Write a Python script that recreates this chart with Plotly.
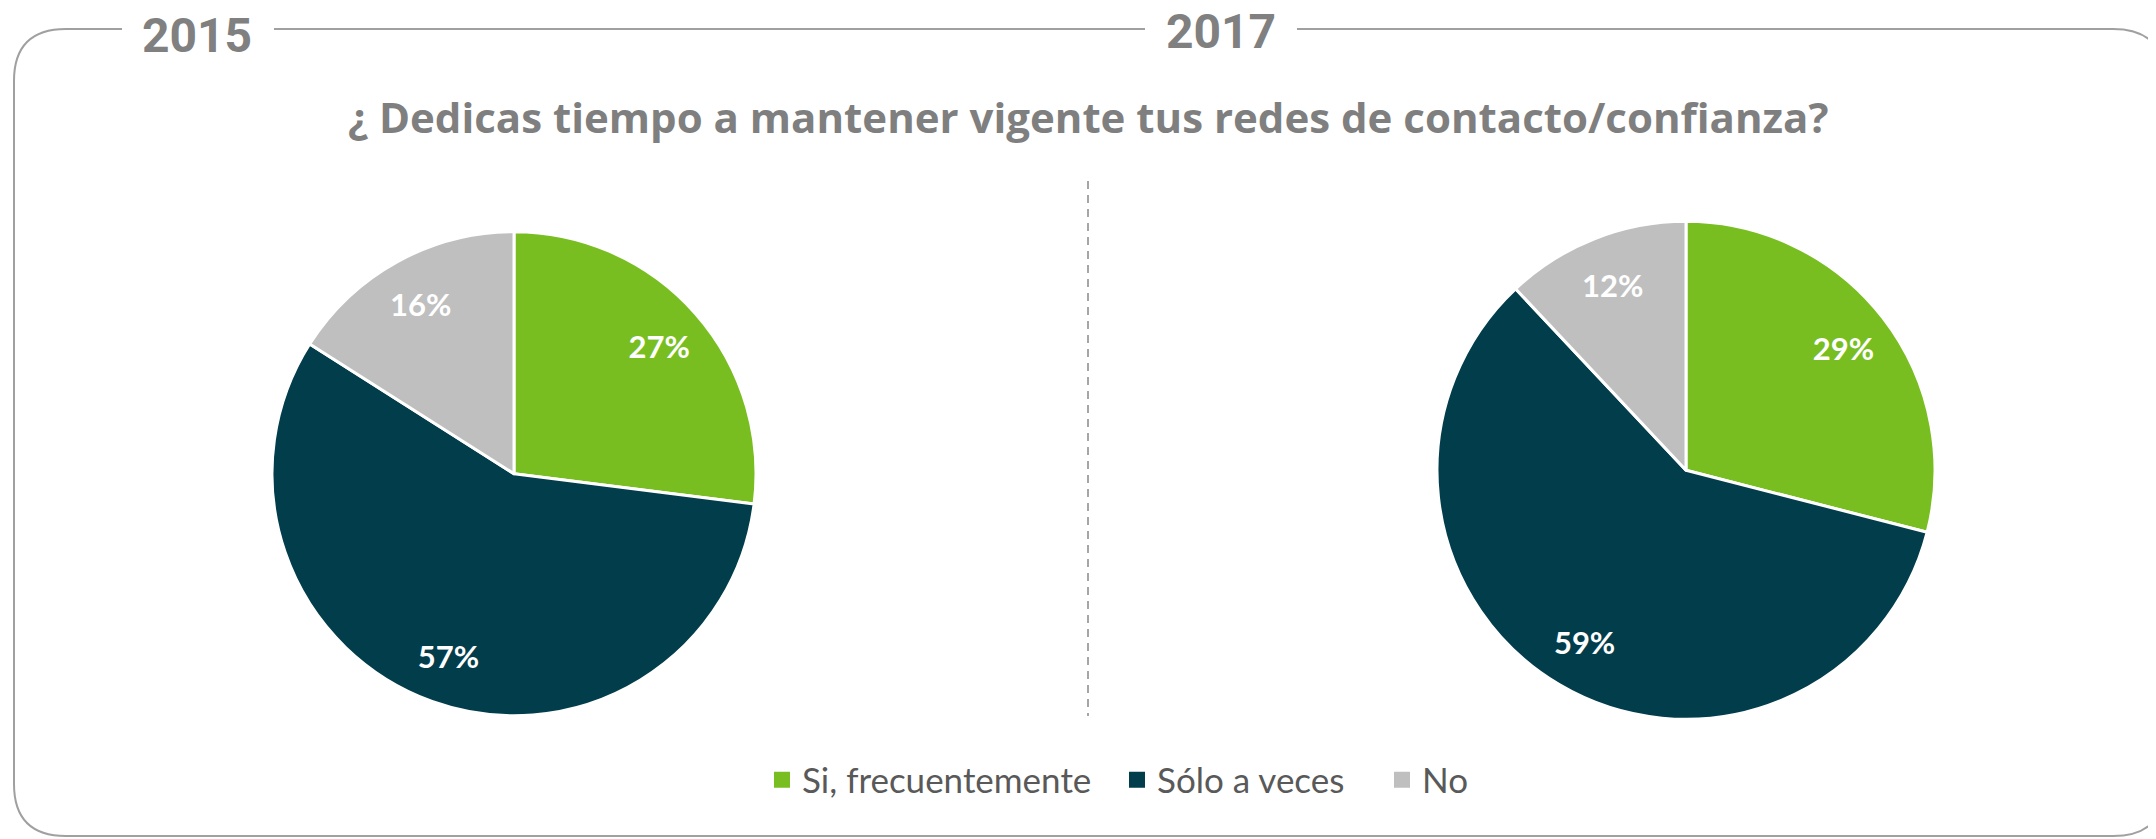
import plotly.graph_objects as go

# ---- data ----
categories = ["Si, frecuentemente", "Sólo a veces", "No"]
values_2015 = [27, 57, 16]
values_2017 = [29, 59, 12]
years = ["2015", "2017"]
title_text = "¿ Dedicas tiempo a mantener vigente tus redes de contacto/confianza?"
colors = ["#78BE20", "#023D4C", "#BFBFBF"]

W, H = 2156, 839
OFF = 8  # page body margin


def px(x):
    return (x - OFF) / W


def py(y):
    return 1 - (y - OFF) / H


fig = go.Figure()

pies = [
    (values_2015, years[0], 514, 473.7, 242),
    (values_2017, years[1], 1686, 470.3, 249),
]
for vals, yr, cx, cy, r in pies:
    dom = dict(x=[px(cx - r), px(cx + r)], y=[py(cy + r), py(cy - r)])
    # coloured slices
    fig.add_trace(go.Pie(
        values=vals, labels=categories, name=yr, domain=dom,
        sort=False, direction="clockwise", rotation=0,
        marker=dict(colors=colors, line=dict(color="white", width=3)),
        textinfo="none", showlegend=False, hoverinfo="label+value",
    ))
    # transparent ring carrying the labels near the rim
    fig.add_trace(go.Pie(
        values=vals, labels=categories, name=yr, domain=dom, hole=0.6,
        sort=False, direction="clockwise", rotation=0,
        marker=dict(colors=["rgba(0,0,0,0)"] * len(vals), line=dict(width=0)),
        texttemplate="<b>%{value}%</b>", textposition="inside",
        insidetextorientation="horizontal",
        textfont=dict(family="Lato", size=31, color="white"),
        showlegend=False, hoverinfo="skip",
    ))

# legend entries (square markers), each in its own legend box so spacing matches
legend_names = ["legend", "legend2", "legend3"]
legend_sq_x = [777, 1132, 1397]  # page px of square centres
for cat, col, lg in zip(categories, colors, legend_names):
    fig.add_trace(go.Scatter(x=[None], y=[None], mode="markers", name=cat,
                             marker=dict(symbol="square", size=16, color=col),
                             showlegend=True, hoverinfo="skip", legend=lg))

legend_common = dict(orientation="h", xanchor="left", y=py(780), yanchor="middle",
                     font=dict(family="Lato", size=35, color="#595959"),
                     itemsizing="trace", itemwidth=30, bgcolor="rgba(0,0,0,0)",
                     itemclick=False, itemdoubleclick=False)

# ---- frame (rounded rectangle with gaps for the year labels) ----
L, T, R, B, rad = 14, 29, 2165, 836, 52
fcol = "#A0A0A0"


def P(x, y):
    return f"{px(x):.6f},{py(y):.6f}"


frame_path = (
    f"M{P(122, T)} L{P(L + rad, T)} Q{P(L, T)} {P(L, T + rad)} "
    f"L{P(L, B - rad)} Q{P(L, B)} {P(L + rad, B)} "
    f"L{P(R - rad, B)} Q{P(R, B)} {P(R, B - rad)} "
    f"L{P(R, T + rad)} Q{P(R, T)} {P(R - rad, T)} L{P(1297, T)}"
)
fig.add_shape(type="path", path=frame_path, xref="paper", yref="paper",
              line=dict(color=fcol, width=2))
fig.add_shape(type="line", xref="paper", yref="paper",
              x0=px(274), x1=px(1145), y0=py(T), y1=py(T),
              line=dict(color=fcol, width=2))

# dashed divider
fig.add_shape(type="line", xref="paper", yref="paper",
              x0=px(1088), x1=px(1088), y0=py(181), y1=py(716),
              line=dict(color="#A6A6A6", width=2, dash="8px,6px"))

# ---- texts ----
fig.add_annotation(text=f"<b>{years[0]}</b>", x=px(196.5), y=py(36), xref="paper", yref="paper",
                   showarrow=False, xanchor="center", yanchor="middle",
                   font=dict(family="Roboto", size=48, color="#808080"))
fig.add_annotation(text=f"<b>{years[1]}</b>", x=px(1220.5), y=py(32), xref="paper", yref="paper",
                   showarrow=False, xanchor="center", yanchor="middle",
                   font=dict(family="Roboto", size=48, color="#808080"))
fig.add_annotation(text=f"<b>{title_text}</b>", x=px(1088), y=py(116), xref="paper", yref="paper",
                   showarrow=False, xanchor="center", yanchor="middle",
                   font=dict(family="Open Sans", size=42, color="#7F7F7F"))

layout_legends = {
    lg: dict(x=px(sx - 15), **legend_common) for lg, sx in zip(legend_names, legend_sq_x)
}

fig.update_layout(
    width=W, height=H,
    margin=dict(l=0, r=0, t=0, b=0),
    paper_bgcolor="white",
    plot_bgcolor="white",
    xaxis=dict(visible=False),
    yaxis=dict(visible=False),
    **layout_legends,
)

fig.write_html("out.html")
